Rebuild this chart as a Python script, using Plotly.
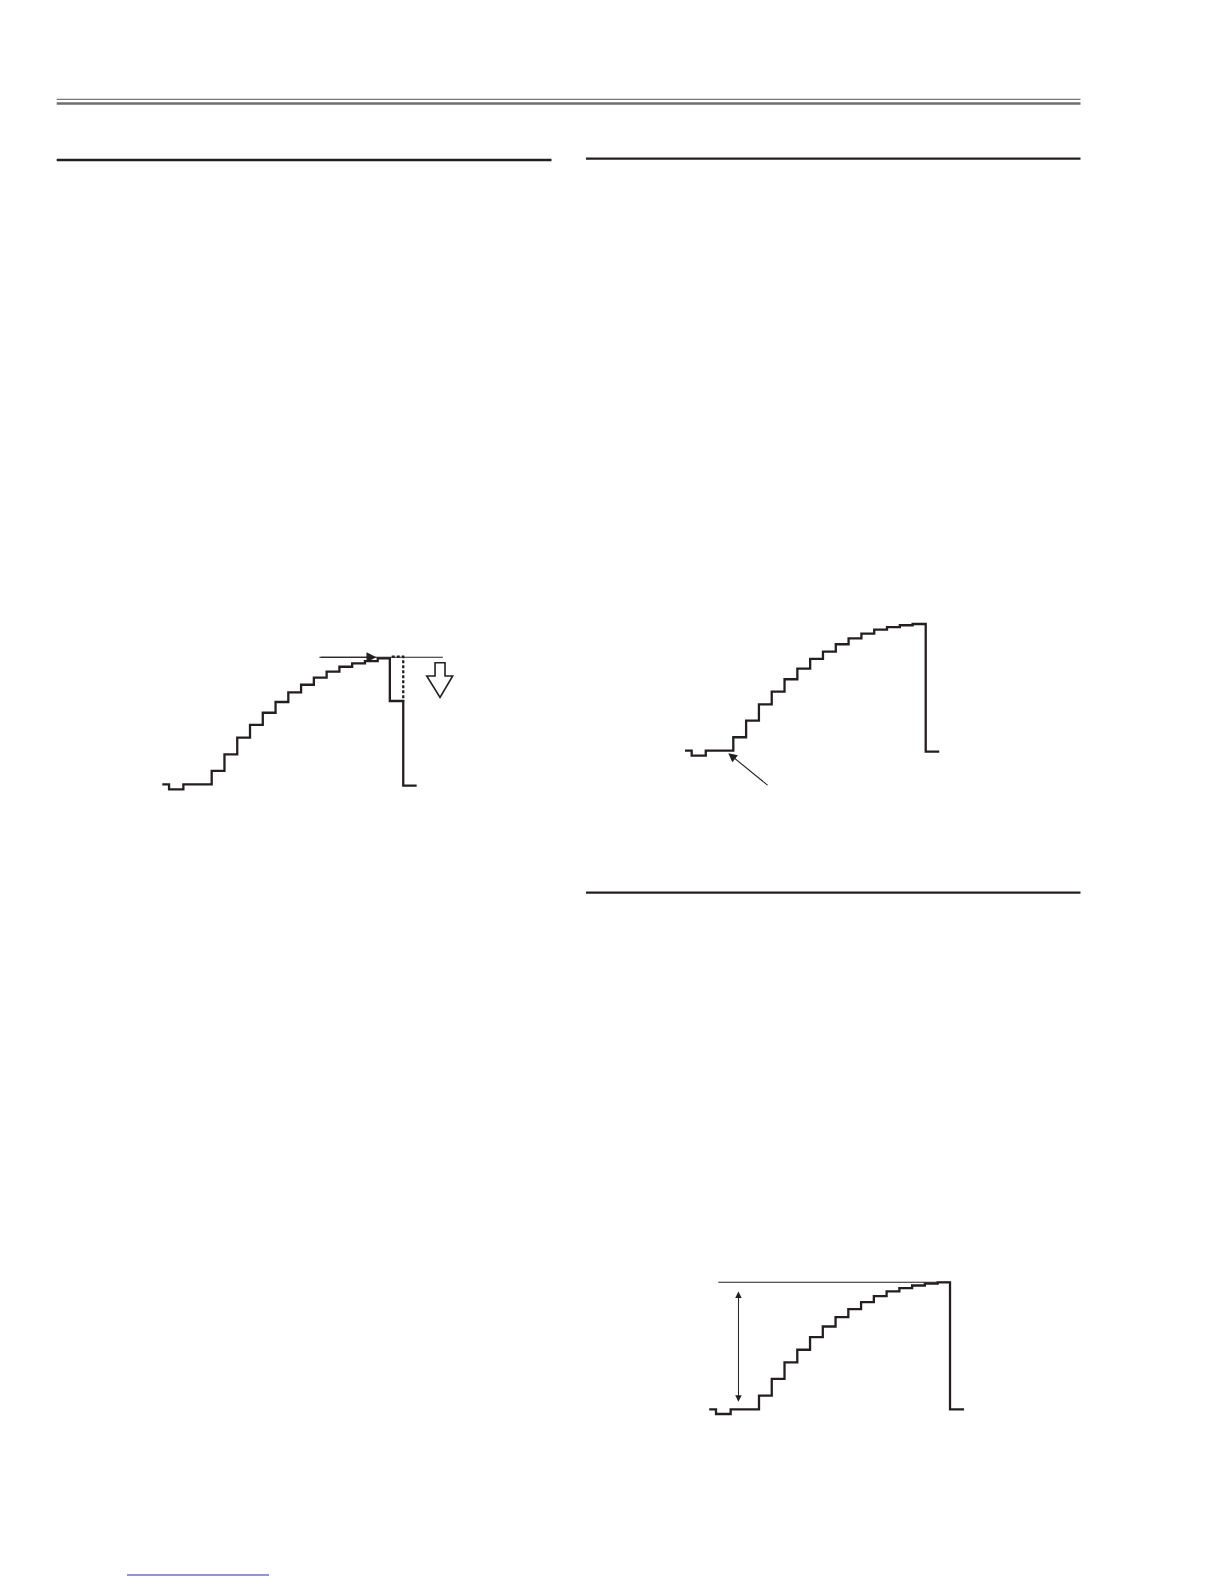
# Staircase (grey scale) waveforms from the white balance / drive adjustment page.
# Time is in step units (first riser = 0), level is in % of the full staircase height.

import plotly.graph_objects as go

W, H = 1224, 1584
INK = "#231f20"

# 1) waveform data

# upper left: staircase with the top step pushed down
wave1_time = [-3.87, -3.34, -2.22, 0, 1, 2, 3, 4, 5, 6, 7, 8, 9, 10, 11, 12, 13, 13.95, 15.0, 16.05]
wave1_level = [0, -4.0, 0, 10.6, 23.8, 37.0, 47.1, 56.8, 65.3, 73.0, 79.0, 84.6, 89.4, 93.3, 96.0, 97.8,
               100, 66.1, -1.1, -1.1]
wave1_ideal_time = [14.1, 15.0, 15.0]
wave1_ideal_level = [101.3, 101.3, 66.1]
wave1_ref_time = [8.43, 18.1]
wave1_ref_level = [100.8, 100.8]

# upper right: normal staircase
wave2_time = [-3.77, -3.25, -2.15, 0, 1, 2, 3, 4, 5, 6, 7, 8, 9, 10, 11, 12, 13, 14, 15.02, 16.08]
wave2_level = [0, -3.9, 0, 10.6, 23.7, 36.6, 46.6, 56.4, 64.8, 72.4, 78.2, 84.0, 88.7, 92.4, 95.5, 97.6,
               99.0, 100, -0.8, -0.8]

# lower right: staircase with amplitude marker
wave3_time = [-3.9, -3.37, -2.22, 0, 1, 2, 3, 4, 5, 6, 7, 8, 9, 10, 11, 12, 13, 14, 14.97, 16.07]
wave3_level = [0, -3.7, 0, 10.7, 23.9, 37.0, 46.9, 56.9, 65.2, 72.6, 78.9, 84.4, 89.1, 92.8, 95.4, 97.5,
               99.0, 100, 0, 0]
wave3_ref_time = [-3.19, 15.0]
wave3_ref_level = [100, 100]

# 2) where each little scope picture sits on the page (pixel of t=0 / level 0, pixel per unit)
panels = [
    dict(x0=211.7, y0=784.3, sx=12.77, sy=1.26),
    dict(x0=733.3, y0=750.7, sx=12.81, sy=1.267),
    dict(x0=759.0, y0=1409.3, sx=12.76, sy=1.27),
]
x_rng = [-5, 20]
y_rng = [-35, 110]

fig = go.Figure()


def step_line(t, lv, n, width=2.3, dash="solid", shape="hv"):
    fig.add_trace(go.Scatter(x=t, y=lv, mode="lines", line_shape=shape,
                             line=dict(color=INK, width=width, dash=dash),
                             xaxis="x" if n == 1 else "x%d" % n,
                             yaxis="y" if n == 1 else "y%d" % n,
                             hoverinfo="skip", showlegend=False))


step_line(wave1_ref_time, wave1_ref_level, 1, width=1.1, shape="linear")
step_line(wave1_time, wave1_level, 1)
step_line(wave1_ideal_time, wave1_ideal_level, 1, width=2.3, dash="3px,2px", shape="hv")
step_line(wave2_time, wave2_level, 2)
step_line(wave3_ref_time, wave3_ref_level, 3, width=1.1, shape="linear")
step_line(wave3_time, wave3_level, 3)

layout_axes = {}
for i, p in enumerate(panels, start=1):
    xd = [(p["x0"] + x_rng[0] * p["sx"]) / W, (p["x0"] + x_rng[1] * p["sx"]) / W]
    yd = [1 - (p["y0"] - y_rng[0] * p["sy"]) / H, 1 - (p["y0"] - y_rng[1] * p["sy"]) / H]
    sfx = "" if i == 1 else str(i)
    layout_axes["xaxis" + sfx] = dict(domain=xd, range=x_rng, visible=False, anchor="y" + sfx)
    layout_axes["yaxis" + sfx] = dict(domain=yd, range=y_rng, visible=False, anchor="x" + sfx)

# 3) arrows and page rules
annotations = [
    # reference level arrow on the first waveform
    dict(x=12.9, y=100.8, ax=8.43, ay=100.8, xref="x", yref="y", axref="x", ayref="y",
         text="", showarrow=True, arrowhead=2, arrowsize=1.8, arrowwidth=1.1, arrowcolor=INK, standoff=0),
    # pointer to the pedestal on the second waveform
    dict(x=-0.39, y=-2.0, ax=2.79, ay=-28.1, xref="x2", yref="y2", axref="x2", ayref="y2",
         text="", showarrow=True, arrowhead=2, arrowsize=1.6, arrowwidth=1.1, arrowcolor=INK, standoff=0),
    # amplitude marker on the third waveform
    dict(x=-1.61, y=6.0, ax=-1.61, ay=93.9, xref="x3", yref="y3", axref="x3", ayref="y3",
         text="", showarrow=True, arrowhead=2, startarrowhead=2, arrowside="end+start",
         arrowsize=1.3, startarrowsize=1.3, arrowwidth=1.0, arrowcolor=INK, standoff=0, startstandoff=0),
]


def hline(x_a, x_b, y_px, color, width):
    return dict(type="line", xref="paper", yref="paper", x0=x_a / W, x1=x_b / W,
                y0=1 - y_px / H, y1=1 - y_px / H, line=dict(color=color, width=width))


shapes = [
    hline(56.7, 1080.5, 99.3, "#555555", 1.0),
    hline(56.7, 1080.5, 103.5, "#6d6e71", 2.6),
    hline(56.7, 551.5, 160.0, INK, 2.3),
    hline(586.0, 1080.5, 158.7, INK, 2.3),
    hline(586.0, 1080.5, 892.7, INK, 2.3),
    hline(127.0, 269.0, 1575.0, "#2a2aa6", 1.2),
    # hollow "turn down" arrow beside the first waveform
    dict(type="path", xref="x", yref="y",
         path="M 17.49 96.5 L 18.27 96.5 L 18.27 86.0 L 18.87 86.0 L 17.88 69.0 "
              "L 16.84 86.0 L 17.49 86.0 Z",
         fillcolor="white", line=dict(color=INK, width=1.6)),
]

fig.update_layout(
    width=W, height=H,
    margin=dict(l=0, r=0, t=0, b=0),
    paper_bgcolor="white", plot_bgcolor="white",
    showlegend=False,
    annotations=annotations,
    shapes=shapes,
    **layout_axes
)

fig.write_html("out.html", config={"displayModeBar": False},
               post_script="document.body.style.margin='0';")
